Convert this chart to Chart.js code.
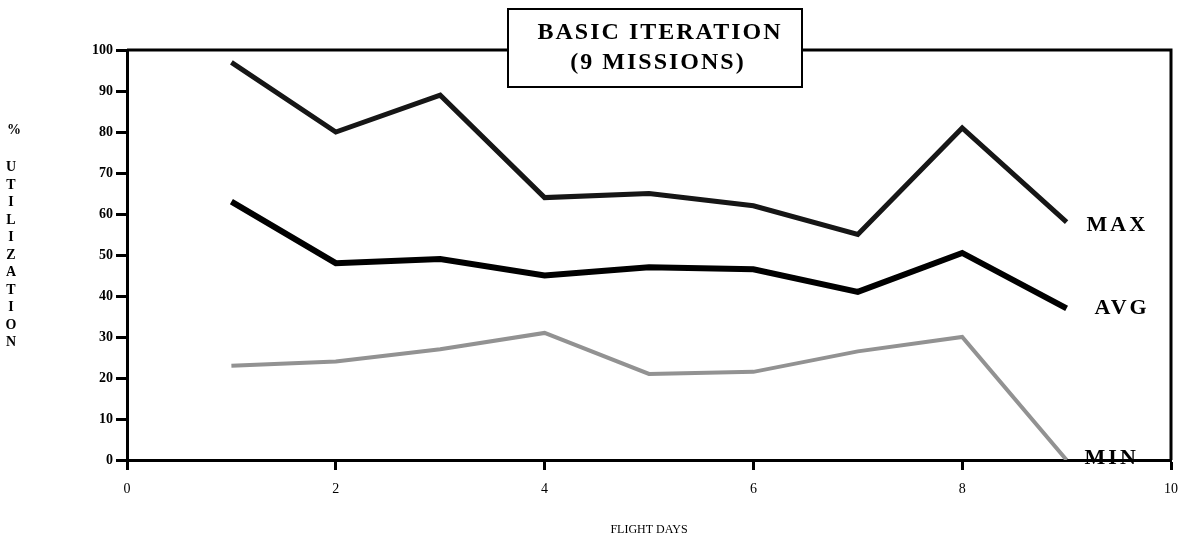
<!DOCTYPE html>
<html>
<head>
<meta charset="utf-8">
<script src="https://cdn.jsdelivr.net/npm/chart.js@4.4.1/dist/chart.umd.min.js"></script>
<style>
  html, body { margin: 0; padding: 0; background: #fff; }
  #wrap { width: 1189px; height: 544px; position: relative; }
</style>
</head>
<body>
<div id="wrap"><canvas id="utilChart" width="1189" height="544"></canvas></div>
<script>
// flight days and % utilization per mission group
var flightDays = [1, 2, 3, 4, 5, 6, 7, 8, 9]
var maxUtil = [97, 80, 89, 64, 65, 62, 55, 81, 58]
var avgUtil = [63, 48, 49, 45, 47, 46.5, 41, 50.5, 37]
var minUtil = [23, 24, 27, 31, 21, 21.5, 26.5, 30, 0]
var seriesNames = ['MAX', 'AVG', 'MIN']
var titleLines = ['BASIC ITERATION', '(9 MISSIONS)']
var yTitleChars = ['%', 'U', 'T', 'I', 'L', 'I', 'Z', 'A', 'T', 'I', 'O', 'N']

var SERIF = "'Liberation Serif', 'DejaVu Serif', serif"

function toPoints (vals) {
  return flightDays.map(function (d, i) { return { x: d, y: vals[i] } })
}

//-------------
// - PLUGINS -
//-------------
var framePlugin = {
  id: 'frame',
  afterDraw: function (chart) {
    var ctx = chart.ctx
    var a = chart.chartArea
    ctx.save()
    // top + right border of the plot box
    ctx.strokeStyle = '#000'
    ctx.lineWidth = 3
    ctx.beginPath()
    ctx.moveTo(a.left, a.top)
    ctx.lineTo(a.right, a.top)
    ctx.lineTo(a.right, a.bottom)
    ctx.stroke()

    // boxed title
    ctx.fillStyle = '#fff'
    ctx.fillRect(508, 9, 294, 78)
    ctx.lineWidth = 2
    ctx.strokeRect(508, 9, 294, 78)
    ctx.fillStyle = '#000'
    ctx.font = 'bold 24px ' + SERIF
    ctx.letterSpacing = '2px'
    ctx.textAlign = 'center'
    ctx.textBaseline = 'middle'
    ctx.fillText(titleLines[0], 660, 33)
    ctx.fillText(titleLines[1], 658, 63)
    ctx.letterSpacing = '0px'

    // stacked y title
    ctx.font = 'bold 14px ' + SERIF
    ctx.fillText(yTitleChars[0], 14, 130)
    for (var i = 1; i < yTitleChars.length; i++) {
      ctx.fillText(yTitleChars[i], 11, 150 + i * 17.5)
    }

    // series labels next to last point
    ctx.font = 'bold 22px ' + SERIF
    ctx.letterSpacing = '3px'
    ctx.textAlign = 'left'
    var dx = [20, 28, 18]
    var dy = [3, 0, -2]
    chart.data.datasets.forEach(function (ds, k) {
      var pts = chart.getDatasetMeta(k).data
      var p = pts[pts.length - 1]
      ctx.fillText(seriesNames[k], p.x + dx[k], p.y + dy[k])
    })
    ctx.restore()
  }
}

var ctx = document.getElementById('utilChart').getContext('2d')

var utilData = {
  datasets: [
    {
      label: seriesNames[0],
      data: toPoints(maxUtil),
      borderColor: '#161616',
      borderWidth: 5
    },
    {
      label: seriesNames[1],
      data: toPoints(avgUtil),
      borderColor: '#000',
      borderWidth: 6
    },
    {
      label: seriesNames[2],
      data: toPoints(minUtil),
      borderColor: '#929292',
      borderWidth: 4
    }
  ]
}

var utilOptions = {
  responsive: false,
  animation: false,
  layout: { padding: { left: 0, right: 17, top: 50, bottom: 0 } },
  elements: {
    point: { radius: 0 },
    line: { tension: 0, borderJoinStyle: 'miter', fill: false }
  },
  plugins: {
    legend: { display: false },
    tooltip: { enabled: false }
  },
  scales: {
    x: {
      type: 'linear',
      min: 0,
      max: 10,
      afterFit: function (scale) { scale.height = 84 },
      ticks: { stepSize: 2, color: '#000', padding: 11, font: { family: SERIF, size: 14 } },
      grid: { drawOnChartArea: false, tickLength: 10, tickWidth: 3, tickColor: '#000' },
      border: { color: '#000', width: 3 },
      title: {
        display: true,
        text: 'FLIGHT DAYS',
        color: '#000',
        font: { family: SERIF, size: 12 },
        padding: { top: 0, bottom: 7 }
      }
    },
    y: {
      min: 0,
      max: 100,
      afterFit: function (scale) { scale.width = 127 },
      ticks: { stepSize: 10, color: '#000', padding: 3, font: { family: SERIF, size: 14, weight: 'bold' } },
      grid: { drawOnChartArea: false, tickLength: 11, tickWidth: 3, tickColor: '#000' },
      border: { color: '#000', width: 3 }
    }
  }
}

// eslint-disable-next-line no-unused-vars
var utilChart = new Chart(ctx, {
  type: 'line',
  data: utilData,
  options: utilOptions,
  plugins: [framePlugin]
})
</script>
</body>
</html>
